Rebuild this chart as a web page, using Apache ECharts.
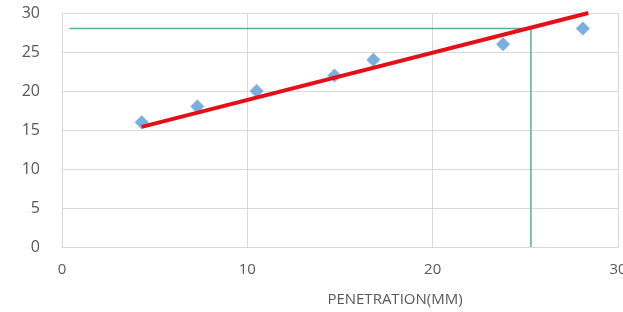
<!DOCTYPE html>
<html>
<head>
<meta charset="utf-8">
<script src="https://cdn.jsdelivr.net/npm/echarts@6/dist/echarts.min.js"></script>
<style>
  html, body { margin: 0; padding: 0; background: #fff; }
  #chart { width: 623px; height: 312px; }
</style>
</head>
<body>
<div id="chart"></div>
<script>
  // measured points (penetration mm, load)
  const penetration = [4.3, 7.3, 10.5, 14.7, 16.8, 23.8, 28.1];
  const load = [16, 18, 20, 22, 24, 26, 28];
  // red trend line ends
  const trendX = [4.3, 28.4];
  const trendY = [15.4, 30];
  // green read-off lines
  const guideX = [0.4, 25.3, 25.3];
  const guideY = [28, 28, 0];

  const zip = (a, b) => a.map((v, i) => [v, b[i]]);

  const chart = echarts.init(document.getElementById('chart'));
  chart.setOption({
    animation: false,
    textStyle: { fontFamily: 'Open Sans, sans-serif' },
    grid: { left: 62, right: 5, top: 13, bottom: 65, outerBoundsMode: 'none' },
    xAxis: {
      type: 'value',
      min: 0, max: 30, interval: 10,
      name: 'PENETRATION(MM)',
      nameLocation: 'middle',
      nameGap: 45,
      nameTextStyle: { fontSize: 15, color: '#595959', padding: [0, 0, 0, 110] },
      axisLine: { show: true, lineStyle: { color: '#d9d9d9' } },
      axisTick: { show: false },
      axisLabel: { fontSize: 15, color: '#595959', margin: 15 },
      splitLine: { show: true, lineStyle: { color: '#d9d9d9' } }
    },
    yAxis: {
      type: 'value',
      min: 0, max: 30, interval: 5,
      axisLine: { show: false },
      axisTick: { show: false },
      axisLabel: { fontSize: 16, color: '#595959', margin: 22 },
      splitLine: { show: true, lineStyle: { color: '#d9d9d9' } }
    },
    series: [
      {
        type: 'line',
        data: zip(guideX, guideY),
        symbol: 'none',
        lineStyle: { color: '#5fae8c', width: 1.5 },
        z: 2
      },
      {
        type: 'scatter',
        data: zip(penetration, load),
        symbol: 'diamond',
        symbolSize: 14,
        itemStyle: { color: '#5b9bd5' },
        z: 3
      },
      {
        type: 'line',
        data: zip(trendX, trendY),
        symbol: 'none',
        lineStyle: { color: '#e3101a', width: 4 },
        z: 4
      }
    ]
  });
</script>
</body>
</html>
